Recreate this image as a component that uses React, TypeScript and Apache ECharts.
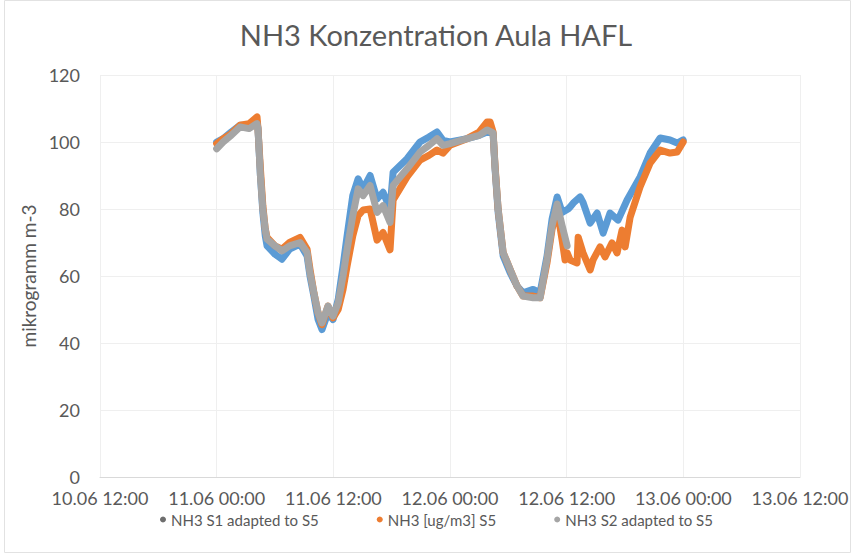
import React, { useEffect, useRef } from "react";
import * as echarts from "echarts";

const chartTitle = "NH3 Konzentration Aula HAFL";
const yAxisName = "mikrogramm m-3";
const xTickLabels = ["10.06 12:00", "11.06 00:00", "11.06 12:00", "12.06 00:00", "12.06 12:00", "13.06 00:00", "13.06 12:00"];
const yTicks = [0, 20, 40, 60, 80, 100, 120];
const seriesNames = ["NH3 S1 adapted to S5", "NH3 [ug/m3] S5", "NH3 S2 adapted to S5"];

// NH3 S1 adapted to S5 (blue)
const s1Times = [
  "11.06 00:00", "11.06 00:40", "11.06 01:30", "11.06 02:24", "11.06 03:20", "11.06 04:09", "11.06 04:15", "11.06 04:30",
  "11.06 04:45", "11.06 05:00", "11.06 05:11", "11.06 06:00", "11.06 06:43", "11.06 07:30", "11.06 08:35", "11.06 09:18",
  "11.06 09:36", "11.06 10:00", "11.06 10:26", "11.06 10:50", "11.06 11:27", "11.06 11:58", "11.06 12:30", "11.06 13:00",
  "11.06 13:25", "11.06 14:00", "11.06 14:33", "11.06 15:04", "11.06 15:47", "11.06 16:30", "11.06 17:07", "11.06 17:50",
  "11.06 18:09", "11.06 19:35", "11.06 20:55", "11.06 21:50", "11.06 22:40", "11.06 23:17", "12.06 00:00", "12.06 01:45",
  "12.06 03:00", "12.06 03:49", "12.06 04:26", "12.06 04:38", "12.06 04:57", "12.06 05:28", "12.06 06:11", "12.06 06:54",
  "12.06 07:31", "12.06 08:33", "12.06 09:16", "12.06 09:59", "12.06 10:30", "12.06 11:01", "12.06 11:32", "12.06 12:09",
  "12.06 12:21", "12.06 12:45", "12.06 13:23", "12.06 13:41", "12.06 14:25", "12.06 15:08", "12.06 15:45", "12.06 16:28",
  "12.06 17:17", "12.06 18:13", "12.06 19:33", "12.06 20:35", "12.06 21:37", "12.06 22:38", "12.06 23:22", "12.06 23:59"
];
const s1Values = [
  100, 101, 103, 105, 105, 106, 104, 90,
  79, 72, 69, 66.5, 65, 68, 69.5, 66,
  60, 54, 47, 44, 49, 47, 53, 63,
  72, 84, 89, 86, 90, 83, 85, 80,
  91, 95, 100, 101.5, 103, 100.5, 100, 101,
  102, 103, 102.5, 92, 79, 66, 61, 57,
  55, 56, 55, 66, 77, 83.6, 79, 80,
  80.6, 82, 83.6, 82, 75.8, 78.8, 72.8, 78.8,
  76.7, 82.7, 89.6, 96.7, 101.2, 100.6, 99.7, 100.6
];

// NH3 [ug/m3] S5 (orange)
const s5Times = [
  "11.06 00:00", "11.06 00:40", "11.06 01:30", "11.06 02:24", "11.06 03:20", "11.06 04:09", "11.06 04:15", "11.06 04:30",
  "11.06 04:45", "11.06 05:00", "11.06 05:11", "11.06 06:00", "11.06 06:43", "11.06 07:30", "11.06 08:35", "11.06 09:18",
  "11.06 09:36", "11.06 10:00", "11.06 10:26", "11.06 10:50", "11.06 11:27", "11.06 11:58", "11.06 12:30", "11.06 13:00",
  "11.06 13:25", "11.06 14:00", "11.06 14:33", "11.06 15:04", "11.06 15:47", "11.06 16:30", "11.06 17:07", "11.06 17:50",
  "11.06 18:09", "11.06 19:35", "11.06 20:55", "11.06 21:50", "11.06 22:40", "11.06 23:17", "12.06 00:00", "12.06 01:45",
  "12.06 03:00", "12.06 03:49", "12.06 04:07", "12.06 04:26", "12.06 04:38", "12.06 04:57", "12.06 05:28", "12.06 06:11",
  "12.06 06:54", "12.06 07:31", "12.06 08:33", "12.06 09:16", "12.06 09:59", "12.06 10:30", "12.06 11:01", "12.06 11:32",
  "12.06 11:50", "12.06 12:03", "12.06 12:21", "12.06 13:04", "12.06 13:11", "12.06 13:41", "12.06 14:25", "12.06 14:43",
  "12.06 15:26", "12.06 15:57", "12.06 16:40", "12.06 17:11", "12.06 17:42", "12.06 18:01", "12.06 18:32", "12.06 19:33",
  "12.06 20:35", "12.06 21:37", "12.06 22:38", "12.06 23:22", "12.06 23:59"
];
const s5Values = [
  99.5, 101, 102.5, 105, 105.5, 107.5, 104, 92,
  81, 74, 71.5, 69, 68, 70, 71.5, 68,
  62, 55, 49, 45.5, 51, 47.5, 50, 56,
  63, 72, 78, 79.7, 80, 70.7, 73, 67.8,
  82.7, 89.6, 94.6, 96, 97.6, 96.7, 99, 101,
  103, 106, 106, 103, 93, 80, 67, 62,
  57, 54, 54, 53.5, 64, 74, 80, 70.7,
  64.8, 66.9, 64.8, 63.9, 71.6, 66.9, 61.8, 64.8,
  68.7, 65.7, 69.9, 66.9, 73.7, 68.7, 77.6, 86.6,
  93.7, 97.6, 96.7, 97, 100
];

// NH3 S2 adapted to S5 (grey)
const s2Times = [
  "11.06 00:00", "11.06 00:40", "11.06 01:30", "11.06 02:24", "11.06 03:20", "11.06 04:09", "11.06 04:15", "11.06 04:30",
  "11.06 04:45", "11.06 05:00", "11.06 05:11", "11.06 06:00", "11.06 06:43", "11.06 07:30", "11.06 08:35", "11.06 09:18",
  "11.06 09:36", "11.06 10:00", "11.06 10:26", "11.06 10:50", "11.06 11:27", "11.06 11:58", "11.06 12:30", "11.06 13:00",
  "11.06 13:25", "11.06 14:00", "11.06 14:33", "11.06 15:04", "11.06 15:47", "11.06 16:30", "11.06 17:07", "11.06 17:50",
  "11.06 18:09", "11.06 19:35", "11.06 20:55", "11.06 21:50", "11.06 22:40", "11.06 23:17", "12.06 00:00", "12.06 01:45",
  "12.06 03:00", "12.06 03:49", "12.06 04:26", "12.06 04:38", "12.06 04:57", "12.06 05:28", "12.06 06:11", "12.06 06:54",
  "12.06 07:31", "12.06 08:33", "12.06 09:16", "12.06 09:59", "12.06 10:30", "12.06 11:01", "12.06 11:32", "12.06 12:03"
];
const s2Values = [
  98, 100, 102, 104.5, 104, 105.5, 104, 90,
  80, 74, 71, 69, 67.5, 69, 70, 67,
  61, 55, 49, 46, 51, 48, 52, 60,
  68, 78, 86, 84, 87, 79, 81, 76,
  87, 92, 97, 99, 101, 99, 99.5, 101,
  102, 103.6, 102.7, 92.5, 80, 67, 62, 57,
  54, 53.5, 53.5, 65, 75, 81.5, 75, 69
];

const seriesColors = ["#5b9bd5", "#ed7d31", "#a5a5a5"];
const legendMarkerColors = ["#6e6e6e", "#ed7d31", "#a5a5a5"];

function toHours(t: string): number {
  // hours since 10.06 12:00
  const [d, hm] = t.split(" ");
  const day = parseInt(d.split(".")[0], 10);
  const [h, m] = hm.split(":").map((s) => parseInt(s, 10));
  return (day - 10) * 24 + h + m / 60 - 12;
}

function pairs(times: string[], values: number[]) {
  return times.map((t, i) => [toHours(t), values[i]]);
}

export default function App() {
  const ref = useRef<HTMLDivElement>(null);
  useEffect(() => {
    document.body.style.margin = "0";
    if (!ref.current) return;
    const chart = echarts.init(ref.current, null, { renderer: "svg" });
    const font = "Lato";
    const textColor = "#595959";
    const allData = [pairs(s1Times, s1Values), pairs(s5Times, s5Values), pairs(s2Times, s2Values)];
    chart.setOption({
      animation: false,
      backgroundColor: "#ffffff",
      title: {
        text: chartTitle,
        left: 431,
        textAlign: "center",
        top: 15,
        textStyle: { fontFamily: font, fontSize: 29, fontWeight: "normal", color: textColor },
      },
      grid: { left: 100, right: 52, top: 75, bottom: 77, containLabel: false },
      legend: {
        top: 507,
        left: 155,
        icon: "circle",
        itemWidth: 6,
        itemHeight: 6,
        itemGap: 58,
        textStyle: { fontFamily: font, fontSize: 15, color: textColor },
        data: seriesNames.map((n, i) => ({ name: n, itemStyle: { color: legendMarkerColors[i] } })),
      },
      xAxis: {
        type: "value",
        min: 0,
        max: 72,
        interval: 12,
        axisLine: { show: true, lineStyle: { color: "#d9d9d9", width: 1 } },
        axisTick: { show: false },
        splitLine: { show: true, lineStyle: { color: "#efefef", width: 1 } },
        axisLabel: {
          margin: 12,
          fontFamily: font,
          fontSize: 18,
          color: textColor,
          formatter: (v: number) => xTickLabels[Math.round(v / 12)] ?? "",
        },
      },
      yAxis: {
        type: "value",
        min: yTicks[0],
        max: yTicks[yTicks.length - 1],
        interval: 20,
        name: yAxisName,
        nameLocation: "middle",
        nameGap: 56,
        nameTextStyle: { fontFamily: font, fontSize: 19, color: textColor },
        axisLine: { show: false },
        axisTick: { show: false },
        splitLine: { show: true, lineStyle: { color: "#efefef", width: 1 } },
        axisLabel: { margin: 20, fontFamily: font, fontSize: 18, color: textColor },
      },
      series: seriesNames.map((n, i) => ({
        name: n,
        type: "line",
        data: allData[i],
        showSymbol: false,
        symbol: "none",
        color: seriesColors[i],
        lineStyle: { color: seriesColors[i], width: 7, join: "round", cap: "round" },
        z: 2 + i,
      })),
      graphic: [
        {
          type: "rect",
          shape: { x: 4.5, y: 0.5, width: 846, height: 552 },
          style: { fill: "none", stroke: "#e2e2e2", lineWidth: 1 },
          silent: true,
        },
      ],
    });
    return () => chart.dispose();
  }, []);
  return <div ref={ref} style={{ width: 852, height: 554 }} />;
}
